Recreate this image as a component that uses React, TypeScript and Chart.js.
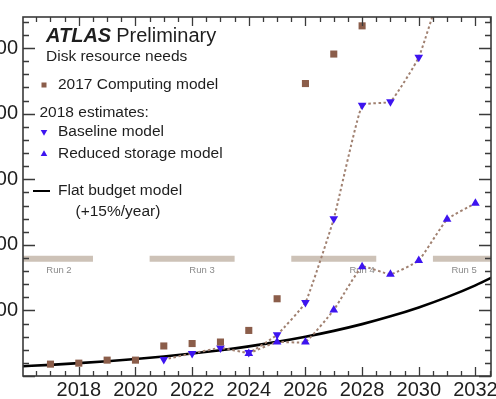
import React, { useEffect, useRef } from 'react';
import { Chart, registerables } from 'chart.js';

Chart.register(...registerables);

const FONT = '"Liberation Sans", Arial, Helvetica, sans-serif';

// Disk resource needs [PB] per year
const computingYears = [2017, 2018, 2019, 2020, 2021, 2022, 2023, 2024, 2025, 2026, 2027, 2028];
const computingDisk = [181, 196, 242, 242, 458, 495, 518, 695, 1178, 4460, 4910, 5340];

const baselineYears = [2021, 2022, 2023, 2024, 2025, 2026, 2027, 2028, 2029, 2030, 2031];
const baselineDisk = [252, 343, 428, 358, 630, 1122, 2397, 4128, 4184, 4860, 6200];

const reducedYears = [2024, 2025, 2026, 2027, 2028, 2029, 2030, 2031, 2032];
const reducedDisk = [345, 518, 518, 1007, 1666, 1551, 1763, 2391, 2633];

// Flat budget model (+15%/year)
const flatYears = [2016, 2017, 2018, 2019, 2020, 2021, 2022, 2023, 2024, 2025, 2026, 2027, 2028, 2029, 2030, 2031, 2032, 2033];
const flatDisk = [148, 170, 196, 225, 259, 297, 342, 393, 452, 520, 598, 688, 791, 910, 1046, 1203, 1383, 1591];

// LHC run periods
const runNames = ['Run 2', 'Run 3', 'Run 4', 'Run 5'];
const runStart = [2015, 2020.5, 2025.5, 2030.5];
const runEnd = [2018.5, 2023.5, 2028.5, 2034];
const runLabelYear = [2017.3, 2022.35, 2028.0, 2031.6];
const runLevel = 1790;
const runLabelLevel = 1606;

// Axis ticks
const xTickYears = [2018, 2020, 2022, 2024, 2026, 2028, 2030, 2032];
const yTickValues = [1000, 2000, 3000, 4000, 5000];

const X_MIN = 2016.03;
const X_MAX = 2032.55;
const Y_MIN = 0;
const Y_MAX = 5475;

const OFF = 30; // canvas shifted left so the axis labels are partly hidden
const CANVAS_W = 560;
const CANVAS_H = 399;

const BROWN = '#8b5d4a';
const DOT = '#a08070';
const BLUE = '#3d14f0';
const RUN = '#cdc2b7';
const INK = '#1e1e1e';

const pts = (xs: number[], ys: number[]) => xs.map((x, i) => ({ x, y: ys[i] }));

const framePlugin = {
  id: 'rootFrame',
  afterDraw(chart: any) {
    const { ctx, chartArea: a, scales } = chart;
    const xs = scales.x;
    const ys = scales.y;
    ctx.save();
    ctx.strokeStyle = '#3a3a3a';
    ctx.lineWidth = 1.3;
    ctx.beginPath();
    // x ticks every half year, longer on even years
    for (let v = Math.ceil(X_MIN * 2) / 2; v <= X_MAX + 1e-9; v += 0.5) {
      const px = Math.round(xs.getPixelForValue(v)) + 0.5;
      const len = Math.abs(v % 2) < 1e-9 ? 9 : 5;
      ctx.moveTo(px, a.bottom);
      ctx.lineTo(px, a.bottom - len);
      ctx.moveTo(px, a.top);
      ctx.lineTo(px, a.top + len);
    }
    // y ticks every 200, longer every 1000
    for (let v = 0; v <= Y_MAX; v += 200) {
      const py = Math.round(ys.getPixelForValue(v)) + 0.5;
      const len = v % 1000 === 0 ? 12 : 6;
      ctx.moveTo(a.left, py);
      ctx.lineTo(a.left + len, py);
      ctx.moveTo(a.right, py);
      ctx.lineTo(a.right - len, py);
    }
    ctx.stroke();
    ctx.lineWidth = 1.6;
    ctx.strokeRect(a.left, a.top, a.right - a.left, a.bottom - a.top);
    ctx.restore();
  },
};

const runLabelPlugin = {
  id: 'runLabels',
  beforeDatasetsDraw(chart: any) {
    const { ctx, scales } = chart;
    ctx.save();
    ctx.font = `9.5px ${FONT}`;
    ctx.fillStyle = '#8a8a8a';
    ctx.textAlign = 'center';
    ctx.textBaseline = 'middle';
    runNames.forEach((name, i) => {
      ctx.fillText(name, scales.x.getPixelForValue(runLabelYear[i]), scales.y.getPixelForValue(runLabelLevel));
    });
    ctx.restore();
  },
};

const tri = (ctx: CanvasRenderingContext2D, x: number, y: number, r: number, down: boolean) => {
  const s = down ? -1 : 1;
  ctx.beginPath();
  ctx.moveTo(x, y - s * r);
  ctx.lineTo(x + r * 0.866, y + s * r * 0.5);
  ctx.lineTo(x - r * 0.866, y + s * r * 0.5);
  ctx.closePath();
  ctx.fill();
};

const legendPlugin = {
  id: 'atlasLegend',
  afterDraw(chart: any) {
    const { ctx, chartArea: a } = chart;
    const X = (v: number) => a.left + (v - 23);
    const Y = (v: number) => a.top + (v - 12);
    ctx.save();
    ctx.fillStyle = INK;
    ctx.textAlign = 'left';
    ctx.textBaseline = 'middle';

    ctx.font = `italic bold 20px ${FONT}`;
    ctx.fillText('ATLAS', X(46), Y(31));
    const w = ctx.measureText('ATLAS').width;
    ctx.font = `20px ${FONT}`;
    ctx.fillText('Preliminary', X(46) + w + 5, Y(31));

    ctx.font = `15.5px ${FONT}`;
    ctx.fillText('Disk resource needs', X(46), Y(52));
    ctx.fillText('2017 Computing model', X(58), Y(80));
    ctx.fillText('2018 estimates:', X(39.5), Y(108));
    ctx.fillText('Baseline model', X(58), Y(127));
    ctx.fillText('Reduced storage model', X(58), Y(149));
    ctx.fillText('Flat budget model', X(58), Y(186));
    ctx.fillText('(+15%/year)', X(75.5), Y(206.5));

    ctx.fillStyle = BROWN;
    ctx.fillRect(X(44) - 2.5, Y(80) - 2.5, 5, 5);
    ctx.fillStyle = BLUE;
    tri(ctx, X(44), Y(127), 3.8, true);
    tri(ctx, X(44), Y(149), 3.8, false);
    ctx.strokeStyle = '#000';
    ctx.lineWidth = 2;
    ctx.beginPath();
    ctx.moveTo(X(33), Y(186));
    ctx.lineTo(X(50), Y(186));
    ctx.stroke();
    ctx.restore();
  },
};

export default function App() {
  const ref = useRef<HTMLCanvasElement>(null);

  useEffect(() => {
    const canvas = ref.current;
    if (!canvas) return;

    const runSets = runNames.map((name, i) => ({
      label: name,
      data: [
        { x: runStart[i], y: runLevel },
        { x: runEnd[i], y: runLevel },
      ],
      borderColor: RUN,
      borderWidth: 6,
      borderCapStyle: 'butt' as const,
      pointRadius: 0,
      clip: 0,
      order: 10,
    }));

    const dotted = {
      borderColor: DOT,
      borderWidth: 2,
      borderDash: [2.5, 2.5],
      tension: 0.12,
      pointRadius: 5,
      pointBackgroundColor: BLUE,
      pointBorderWidth: 0,
      clip: 0,
      order: 2,
    };

    const chart = new Chart(canvas, {
      type: 'line',
      data: {
        datasets: [
          {
            label: '2017 Computing model',
            data: pts(computingYears, computingDisk),
            showLine: false,
            pointStyle: 'rect',
            pointRadius: 5,
            pointBackgroundColor: BROWN,
            pointBorderWidth: 0,
            borderColor: BROWN,
            clip: 0,
            order: 1,
          },
          {
            label: 'Baseline model',
            data: pts(baselineYears, baselineDisk),
            ...dotted,
            pointStyle: 'triangle',
            pointRotation: 180,
          },
          {
            label: 'Reduced storage model',
            data: pts(reducedYears, reducedDisk),
            ...dotted,
            pointStyle: 'triangle',
          },
          {
            label: 'Flat budget model',
            data: pts(flatYears, flatDisk),
            borderColor: '#000',
            borderWidth: 2.6,
            cubicInterpolationMode: 'monotone',
            pointRadius: 0,
            clip: 0,
            order: 3,
          },
          ...runSets,
        ],
      },
      options: {
        animation: false,
        responsive: false,
        maintainAspectRatio: false,
        events: [],
        layout: { padding: { left: 0, right: CANVAS_W - (OFF + 491), top: 12, bottom: 0 } },
        plugins: { legend: { display: false }, tooltip: { enabled: false } },
        scales: {
          x: {
            type: 'linear',
            min: X_MIN,
            max: X_MAX,
            grid: { display: false, drawTicks: false },
            border: { display: false },
            afterBuildTicks: (s: any) => {
              s.ticks = xTickYears.map((v) => ({ value: v }));
            },
            ticks: {
              autoSkip: false,
              maxRotation: 0,
              padding: 2,
              color: INK,
              font: { family: FONT, size: 20 },
              callback: (v: any) => String(v),
            },
            afterFit: (s: any) => {
              s.height = CANVAS_H - 376;
            },
          },
          y: {
            type: 'linear',
            min: Y_MIN,
            max: Y_MAX,
            grid: { display: false, drawTicks: false },
            border: { display: false },
            afterBuildTicks: (s: any) => {
              s.ticks = yTickValues.map((v) => ({ value: v }));
            },
            ticks: {
              autoSkip: false,
              padding: 5,
              color: INK,
              font: { family: FONT, size: 20 },
              callback: (v: any) => String(v),
            },
            afterFit: (s: any) => {
              s.width = OFF + 23;
            },
          },
        },
      },
      plugins: [runLabelPlugin, framePlugin, legendPlugin],
    });

    return () => chart.destroy();
  }, []);

  return (
    <div
      style={{
        position: 'absolute',
        left: 0,
        top: 0,
        width: 496,
        height: 399,
        overflow: 'hidden',
        background: '#fff',
      }}
    >
      <canvas
        ref={ref}
        width={CANVAS_W}
        height={CANVAS_H}
        style={{ position: 'absolute', left: -OFF, top: 0, width: CANVAS_W, height: CANVAS_H }}
      />
    </div>
  );
}
